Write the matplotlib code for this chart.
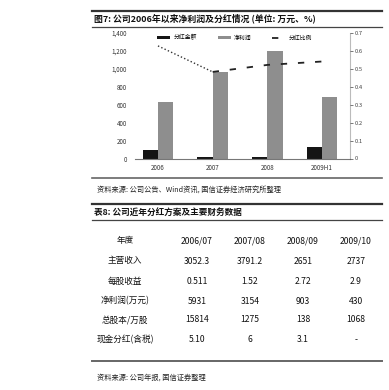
import matplotlib
matplotlib.use("Agg")
import matplotlib.pyplot as plt
from matplotlib.lines import Line2D
import numpy as np

plt.rcParams['font.family'] = ['Noto Sans CJK SC', 'DejaVu Sans']

# chart data
years = ["2006", "2007", "2008", "2009H1"]
dividend = [100, 12, 12, 130]          # 分红金额 (万元)
net_profit = [625, 960, 1195, 690]     # 净利润 (万元)
payout = [0.628, 0.483, 0.522, 0.541]  # 分红比例

left_ticks = [0, 200, 400, 600, 800, 1000, 1200, 1400]
left_labels = ["0", "200", "400", "600", "800", "1,000", "1,200", "1,400"]
right_ticks = [0.0, 0.1, 0.2, 0.3, 0.4, 0.5, 0.6, 0.7]
right_labels = ["0", "0.1", "0.2", "0.3", "0.4", "0.5", "0.6", "0.7"]

# table data
col_heads = ["年度", "2006/07", "2007/08", "2008/09", "2009/10"]
row_names = ["主营收入", "每股收益", "净利润(万元)", "总股本/万股", "现金分红(含税)"]
table_vals = [
    ["3052.3", "3791.2", "2651", "2737"],
    ["0.511", "1.52", "2.72", "2.9"],
    ["5931", "3154", "903", "430"],
    ["15814", "1275", "138", "1068"],
    ["5.10", "6", "3.1", "-"],
]

W, H = 389, 390
fig = plt.figure(figsize=(W / 100, H / 100), dpi=100)


def fx(x):
    return x / W


def fy(y):
    return 1 - y / H


def rule(y, lw=1.0, color="#555555", x0=92, x1=382):
    fig.add_artist(Line2D([fx(x0), fx(x1)], [fy(y), fy(y)], transform=fig.transFigure,
                          color=color, lw=lw))


# chart header
rule(11, lw=1.6, color="#333333")
fig.text(fx(94), fy(18.5), "图7: 公司2006年以来净利润及分红情况 (单位: 万元、%)", fontsize=6.4,
         fontweight="bold", va="center", ha="left", color="#111111")
rule(26.5, lw=0.9, color="#444444")

ax = fig.add_axes([fx(135), fy(158.5), fx(350) - fx(135), fy(33) - fy(158.5)])
x = np.arange(len(years))
bw = 0.28
ax.bar(x - bw / 2, dividend, width=bw, color="#151515", label="分红金额", zorder=2)
ax.bar(x + bw / 2, net_profit, width=bw, color="#8e8e8e", label="净利润", zorder=2)
ax.set_xlim(-0.42, 3.51)
ax.set_ylim(0, 1400)
ax.set_yticks(left_ticks)
ax.set_yticklabels(left_labels)
ax.set_xticks(x)
ax.set_xticklabels(years)
ax.tick_params(axis="both", labelsize=4.5, colors="#333333", length=0, pad=4)
ax.tick_params(axis="y", pad=6)
for side in ("left", "top"):
    ax.spines[side].set_visible(False)
ax.spines["bottom"].set_color("#777777")
ax.spines["bottom"].set_linewidth(0.8)
ax.spines["right"].set_color("#bbbbbb")
ax.spines["right"].set_linewidth(0.8)

ax2 = ax.twinx()
ax2.set_ylim(0, 0.7)
ax2.set_yticks(right_ticks)
ax2.set_yticklabels(right_labels)
ax2.tick_params(axis="y", labelsize=4.2, colors="#444444", length=2, width=0.5, pad=1.5)
for side in ("left", "top", "bottom", "right"):
    ax2.spines[side].set_visible(False)
# dotted first segment, dashed after
ax2.plot(x[:2], payout[:2], color="#333333", lw=1.0, ls=(0, (1, 1.6)), zorder=3)
ln, = ax2.plot(x[1:], payout[1:], color="#222222", lw=1.3, zorder=3, label="分红比例")
ln.set_dashes((3.5, 6))

h1, l1 = ax.get_legend_handles_labels()
h2, l2 = ax2.get_legend_handles_labels()
ax.legend(h1 + h2, l1 + l2, ncol=3, frameon=False, fontsize=4.2, loc="upper left",
          bbox_to_anchor=(0.08, 1.03), handlelength=2.2, handleheight=0.6,
          columnspacing=3.5, handletextpad=0.6)

rule(178, lw=1.2, color="#666666")
fig.text(fx(97), fy(190), "资料来源: 公司公告、Wind资讯, 国信证券经济研究所整理", fontsize=5.2,
         va="center", ha="left", color="#222222")

# table
rule(204, lw=1.6, color="#333333")
fig.text(fx(94), fy(212), "表8: 公司近年分红方案及主要财务数据", fontsize=6.2,
         fontweight="bold", va="center", ha="left", color="#111111")
rule(220, lw=0.9, color="#444444")

col_x = [125, 197, 250, 303, 356]
row_y = [241, 261, 281, 301, 320, 340]
for cx, head in zip(col_x, col_heads):
    fig.text(fx(cx), fy(row_y[0]), head, fontsize=6.2, ha="center", va="center", color="#111111")
for ry, name, vals in zip(row_y[1:], row_names, table_vals):
    fig.text(fx(col_x[0]), fy(ry), name, fontsize=6.2, ha="center", va="center", color="#111111")
    for cx, v in zip(col_x[1:], vals):
        fig.text(fx(cx), fy(ry), v, fontsize=6.2, ha="center", va="center", color="#111111")

rule(361, lw=1.4, color="#666666")
fig.text(fx(97), fy(378), "资料来源: 公司年报, 国信证券整理", fontsize=5.2,
         va="center", ha="left", color="#222222")

fig.savefig("out.png", dpi=100)
